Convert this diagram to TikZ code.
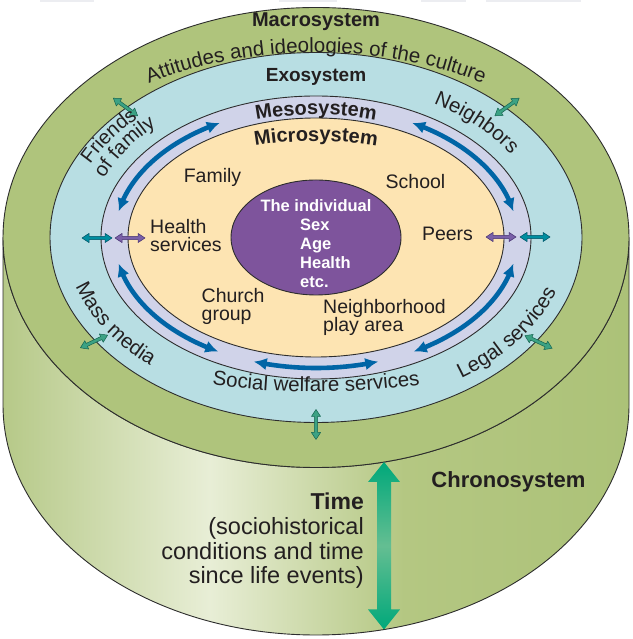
\documentclass[tikz,border=0pt]{standalone}
\usepackage{fontspec}
\setmainfont{Liberation Sans}
\usetikzlibrary{arrows.meta,bending,decorations.text}

\definecolor{macro}{RGB}{175,196,124}
\definecolor{exo}{RGB}{184,222,227}
\definecolor{meso}{RGB}{208,211,233}
\definecolor{micro}{RGB}{253,228,178}
\definecolor{indiv}{RGB}{126,84,156}
\definecolor{flow}{RGB}{0,101,166}
\definecolor{edge}{RGB}{45,45,45}
\definecolor{ink}{RGB}{35,31,32}
\definecolor{timeA}{RGB}{0,168,122}
\definecolor{timeB}{RGB}{100,190,146}
\definecolor{sideL}{RGB}{182,201,136}
\definecolor{sideHi}{RGB}{232,238,214}
\definecolor{sideG}{RGB}{180,199,130}
\definecolor{sideR}{RGB}{172,194,120}
\definecolor{strip}{RGB}{236,237,241}

% cylinder wall: light band left of centre
\pgfdeclarehorizontalshading{cylside}{100bp}{color(0bp)=(sideL); color(25bp)=(sideL);
  color(41.5bp)=(sideHi); color(57bp)=(sideG); color(75bp)=(sideR); color(100bp)=(sideR)}

% small two-way arrow centred at (#1,#2), turned by #3, drawn with style #4
\newcommand\twoway[4]{%
  \begin{scope}[shift={(#1,#2)},rotate=#3]
    \filldraw[#4] (-15,0) -- (-8,4.6) -- (-8,1.6) -- (8,1.6) -- (8,4.6) -- (15,0)
      -- (8,-4.6) -- (8,-1.6) -- (-8,-1.6) -- (-8,-4.6) -- cycle;
  \end{scope}}

\begin{document}
\begin{tikzpicture}[x=1pt,y=1pt,line join=round,
  rim/.style={draw=edge,line width=0.9},
  flowarrow/.style={draw=flow,line width=4.6,
    arrows={Latex[length=13pt,width=12.5pt]-Latex[length=13pt,width=12.5pt]}},
  tealarrow/.style={fill={rgb,255:red,0;green,142;blue,160},draw={rgb,255:red,0;green,80;blue,100},line width=0.5},
  violetarrow/.style={fill={rgb,255:red,122;green,96;blue,168},draw={rgb,255:red,70;green,50;blue,112},line width=0.5},
  greenarrow/.style={fill={rgb,255:red,60;green,162;blue,132},draw={rgb,255:red,20;green,100;blue,80},line width=0.5},
  lbl/.style={inner sep=0,text=ink,font=\fontsize{19.5}{19.5}\selectfont},
  head/.style={inner sep=0,text=ink,font=\bfseries\fontsize{20}{20}\selectfont},
  self/.style={inner sep=0,text=white,font=\bfseries\fontsize{16.5}{16.5}\selectfont},
  big/.style={inner sep=0,text=ink,font=\fontsize{23.5}{23.5}\selectfont}]

\useasboundingbox (0,0) rectangle (632,639);
\fill[white] (0,0) rectangle (632,639);
\coordinate (C) at (316,401.5);

% faint strips along the top edge
\fill[strip] (40,636.5) rectangle (94,639);
\fill[strip] (279,636.5) rectangle (337,639);
\fill[strip] (421,636.5) rectangle (466,639);
\fill[strip] (486,636.5) rectangle (581,639);

% cylinder wall
\shadedraw[shading=cylside,rim] (3,401.5) -- (3,234)
  arc[start angle=180,end angle=360,x radius=313,y radius=230]
  -- (629,401.5)
  arc[start angle=0,end angle=-180,x radius=313,y radius=230] -- cycle;

% nested systems on the top face
\filldraw[fill=macro,rim] (C) ellipse[x radius=313,y radius=230];
\filldraw[fill=exo,rim] (C) ellipse[x radius=266,y radius=185];
\filldraw[fill=meso,rim] (C) ellipse[x radius=215,y radius=141.5];
\filldraw[fill=micro,rim] (C) ellipse[x radius=188,y radius=119.5];
\filldraw[fill=indiv,rim] (C) ellipse[x radius=85,y radius=57.5];

% two-way links within the mesosystem
\draw[flowarrow] ([shift={(118.5:201.5 and 130.5)}]C) arc[start angle=118.5,end angle=168.5,x radius=201.5,y radius=130.5];
\draw[flowarrow] ([shift={(61.5:201.5 and 130.5)}]C) arc[start angle=61.5,end angle=11.5,x radius=201.5,y radius=130.5];
\draw[flowarrow] ([shift={(191.5:201.5 and 130.5)}]C) arc[start angle=191.5,end angle=241,x radius=201.5,y radius=130.5];
\draw[flowarrow] ([shift={(252:201.5 and 130.5)}]C) arc[start angle=252,end angle=288,x radius=201.5,y radius=130.5];
\draw[flowarrow] ([shift={(348.5:201.5 and 130.5)}]C) arc[start angle=348.5,end angle=299,x radius=201.5,y radius=130.5];

% links across the boundaries
\twoway{97}{401}{0}{tealarrow}
\twoway{130}{401}{0}{violetarrow}
\twoway{501}{402}{0}{violetarrow}
\twoway{535}{402}{0}{tealarrow}
\twoway{125.5}{532}{-36}{greenarrow}
\twoway{507}{532}{36}{greenarrow}
\twoway{94}{297.5}{25}{greenarrow}
\twoway{538.5}{297}{-25}{greenarrow}
\twoway{316}{214.5}{90}{greenarrow}

% time arrow on the wall
\shade[top color=timeA,bottom color=timeA,middle color=timeB]
  (384,177) -- (400,157) -- (391,157) -- (391,29.5) -- (400,29.5) -- (384,9.5)
  -- (368,29.5) -- (377,29.5) -- (377,157) -- (368,157) -- cycle;

% system names
\node[head,anchor=base] (macro) at (316,612.5) {Macrosystem};
\node[head,anchor=base,font=\bfseries\fontsize{19}{19}\selectfont] (exo) at (316,557.5) {Exosystem};
\path[decorate,decoration={text along path,text align=center,text color=ink,
  text={|\bfseries\fontsize{20}{20}\selectfont|Mesosystem}}]
  ([shift={(125:200 and 123)}]C) arc[start angle=125,end angle=55,x radius=200,y radius=123];
\path[decorate,decoration={text along path,text align=center,text color=ink,
  text={|\bfseries\fontsize{20}{20}\selectfont|Microsystem}}]
  ([shift={(128:190 and 96.5)}]C) arc[start angle=128,end angle=52,x radius=190,y radius=96.5];

% curved labels in the outer rings
\path[decorate,decoration={text along path,text align=center,text color=ink,
  text={|\fontsize{20.5}{20.5}\selectfont|Attitudes and ideologies of the culture}}]
  ([shift={(150:302 and 185)}]C) arc[start angle=150,end angle=30,x radius=302,y radius=185];
\path[decorate,decoration={text along path,text align=center,text color=ink,
  text={|\fontsize{20}{20}\selectfont|Friends}}]
  ([shift={(166:250 and 170)}]C) arc[start angle=166,end angle=126,x radius=250,y radius=170];
\path[decorate,decoration={text along path,text align=center,text color=ink,
  text={|\fontsize{20}{20}\selectfont|of family}}]
  ([shift={(168:229 and 156)}]C) arc[start angle=168,end angle=126,x radius=229,y radius=156];
\path[decorate,decoration={text along path,text align=center,text color=ink,
  text={|\fontsize{20.5}{20.5}\selectfont|Neighbors}}]
  ([shift={(65:230 and 156)}]C) arc[start angle=65,end angle=25,x radius=230,y radius=156];
\path[decorate,decoration={text along path,text align=center,text color=ink,
  text={|\fontsize{20.5}{20.5}\selectfont|Mass media}}]
  ([shift={(190:251 and 171)}]C) arc[start angle=190,end angle=234,x radius=251,y radius=171];
\path[decorate,decoration={text along path,text align=center,text color=ink,
  text={|\fontsize{20.5}{20.5}\selectfont|Legal services}}]
  ([shift={(301:253 and 172)}]C) arc[start angle=301,end angle=347,x radius=253,y radius=172];
\path[decorate,decoration={text along path,text align=center,text color=ink,
  text={|\fontsize{20.5}{20.5}\selectfont|Social welfare services}}]
  ([shift={(235:340 and 154.5)}]C) arc[start angle=235,end angle=305,x radius=340,y radius=154.5];

% microsystem settings
\node[lbl,anchor=base] (family) at (212.5,456) {Family};
\node[lbl,anchor=base] (school) at (415.5,450) {School};
\node[lbl,anchor=base] (peers) at (447.5,398) {Peers};
\node[lbl,anchor=base west] (health) at (150,405) {Health};
\node[lbl,anchor=base west] (services) at (150,387) {services};
\node[lbl,anchor=base west] (church) at (201.5,336) {Church};
\node[lbl,anchor=base west] (group) at (201.5,318) {group};
\node[lbl,anchor=base west] (hood) at (323,325.7) {Neighborhood};
\node[lbl,anchor=base west] (play) at (323,307.3) {play area};

% the individual
\node[self,anchor=base] (person) at (316,427) {The individual};
\node[self,anchor=base west] (sex) at (300,408) {Sex};
\node[self,anchor=base west] (age) at (300,389) {Age};
\node[self,anchor=base west] (fit) at (300,370) {Health};
\node[self,anchor=base west] (etc) at (300,351) {etc.};

% chronosystem
\node[head,anchor=base,font=\bfseries\fontsize{22}{22}\selectfont] (chrono) at (508.5,151) {Chronosystem};
\node[big,anchor=base east,font=\bfseries\fontsize{23}{23}\selectfont] (time) at (364,129) {Time};
\node[big,anchor=base east] (t1) at (364,104) {(sociohistorical};
\node[big,anchor=base east] (t2) at (364,79) {conditions and time\hspace{0.28em}};
\node[big,anchor=base east] (t3) at (364,55.5) {since life events)};
\end{tikzpicture}
\end{document}
